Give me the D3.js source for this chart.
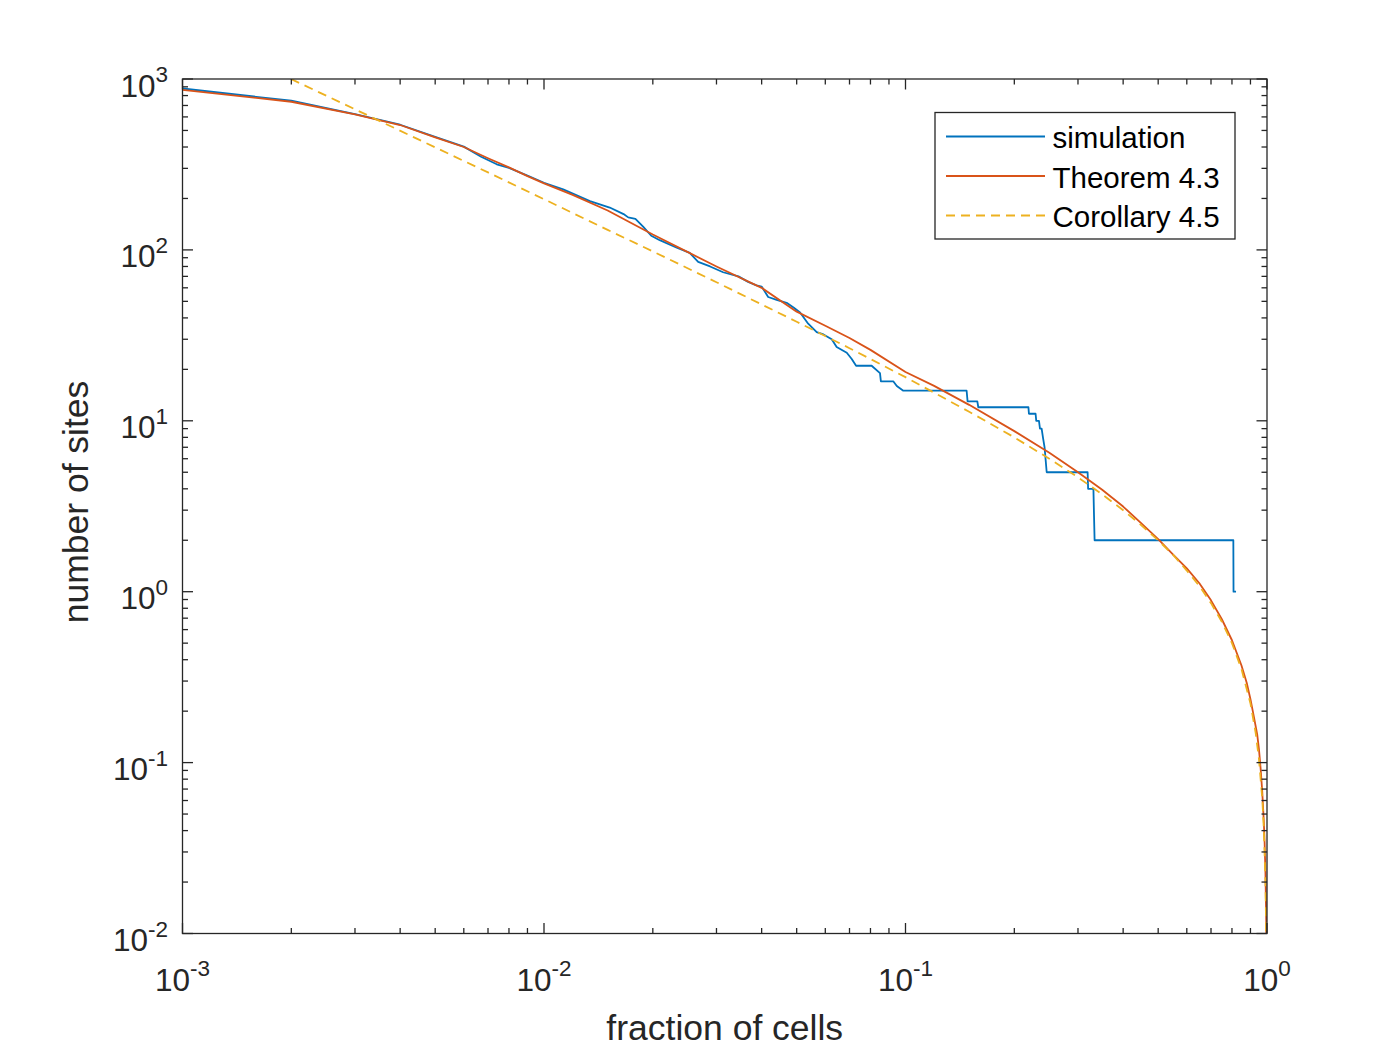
<!DOCTYPE html>
<html>
<head>
<meta charset="utf-8">
<script src="https://cdn.jsdelivr.net/npm/d3@7"></script>
<style>
  html, body { margin: 0; padding: 0; background: #ffffff; }
  svg { display: block; font-family: "Liberation Sans", Arial, Helvetica, sans-serif; }
</style>
</head>
<body>
<svg id="chart" width="1400" height="1050"></svg>
<script>
// ---------------- data ----------------
const simX = [0.001, 0.002, 0.003, 0.004, 0.005, 0.006, 0.0067, 0.0074, 0.008, 0.009, 0.010,
  0.0113, 0.0134, 0.0152, 0.0166, 0.0171, 0.0179, 0.0188, 0.0198, 0.0209, 0.0233, 0.0253,
  0.0267, 0.0288, 0.0313, 0.0345, 0.0367, 0.0387, 0.0400, 0.0417, 0.0440, 0.0469, 0.0490,
  0.0511, 0.0538, 0.0568, 0.0593, 0.0625, 0.0645, 0.0688, 0.0710, 0.0730, 0.0806, 0.0850,
  0.0855, 0.0926, 0.0946, 0.0986, 0.1476, 0.1485, 0.1580, 0.1590, 0.2188, 0.2195, 0.2290,
  0.2300, 0.2340, 0.2355, 0.2380, 0.2400, 0.2425, 0.2440, 0.2458, 0.3190, 0.3200, 0.3310,
  0.3320, 0.3335, 0.8070, 0.8080, 0.8210];
const simY = [880, 746, 622, 540, 458, 402, 351, 317, 302, 272, 247,
  226, 193, 177, 162, 155, 152, 137, 121, 114, 103, 96,
  85, 80, 74, 70, 65, 62, 61, 53, 51, 49, 46,
  43, 37, 33, 32, 30, 27, 25, 23, 21, 21, 19,
  17, 17, 16, 15, 15, 13, 13, 12, 12, 11, 11,
  10, 10, 9, 9, 8, 7, 6, 5, 5, 4, 4,
  3, 2, 2, 1, 1];

const theoX = [0.001, 0.002, 0.003, 0.004, 0.005, 0.006, 0.007, 0.008, 0.009, 0.010, 0.012,
  0.015, 0.020, 0.025, 0.030, 0.040, 0.050, 0.060, 0.070, 0.080, 0.100, 0.120, 0.150,
  0.200, 0.250, 0.300, 0.350, 0.400, 0.450, 0.500, 0.550, 0.600, 0.650, 0.700, 0.750,
  0.800, 0.850, 0.880, 0.900, 0.920, 0.940, 0.950, 0.960, 0.970, 0.980, 0.985, 0.990,
  0.995, 0.998, 0.999];
const theoY = [863, 736, 621, 538, 455, 400, 344, 304, 270, 245, 210,
  170, 123, 97, 80, 60, 43.5, 36, 30.5, 26, 19.3, 16, 12.4,
  8.7, 6.5, 5.0, 3.95, 3.15, 2.5, 2.03, 1.65, 1.37, 1.12, 0.89, 0.69,
  0.52, 0.37, 0.29, 0.235, 0.185, 0.145, 0.12, 0.093, 0.068, 0.045, 0.034, 0.023,
  0.012, 0.0048, 0.0024];

const corX = [0.001, 0.002, 0.003, 0.005, 0.007, 0.010, 0.015, 0.020, 0.030, 0.050, 0.070,
  0.100, 0.150, 0.200, 0.250, 0.300, 0.350, 0.400, 0.450, 0.500, 0.550, 0.600, 0.650,
  0.700, 0.750, 0.800, 0.850, 0.900, 0.930, 0.950, 0.970, 0.980, 0.990, 0.995, 0.998, 0.999];
const corY = [1998, 998, 665, 398, 284, 198, 131, 98, 64.7, 38, 26.6,
  18, 11.3, 8.0, 6.0, 4.67, 3.71, 3.0, 2.44, 2.0, 1.64, 1.33, 1.08,
  0.857, 0.667, 0.5, 0.353, 0.222, 0.15, 0.105, 0.062, 0.041, 0.0202, 0.01, 0.004, 0.002];

const xTickExps = [-3, -2, -1, 0];
const yTickExps = [-2, -1, 0, 1, 2, 3];
const seriesNames = ["simulation", "Theorem 4.3", "Corollary 4.5"];
const xLabel = "fraction of cells";
const yLabel = "number of sites";

// ---------------- layout ----------------
const L = 182.5, R = 1267, T = 79, B = 933.5;
const axisColor = "#262626";
const colors = ["#0072BD", "#D95319", "#EDB120"];

const svg = d3.select("#chart");
const x = d3.scaleLog().domain([1e-3, 1]).range([L, R]);
const y = d3.scaleLog().domain([1e-2, 1e3]).range([B, T]);

svg.append("rect").attr("width", 1400).attr("height", 1050).attr("fill", "#fff");
svg.append("rect").attr("x", L).attr("y", T).attr("width", R - L).attr("height", B - T).attr("fill", "#fff");

svg.append("defs").append("clipPath").attr("id", "plotclip")
  .append("rect").attr("x", L).attr("y", T).attr("width", R - L).attr("height", B - T);

const plot = svg.append("g").attr("clip-path", "url(#plotclip)");
const line = d3.line().x(d => x(d[0])).y(d => y(d[1]));

const simData = simX.map((v, i) => [v, simY[i]]);
const theoData = theoX.map((v, i) => [v, theoY[i]]);
const corData = corX.map((v, i) => [v, corY[i]]);

plot.append("path").datum(simData).attr("d", line)
  .attr("fill", "none").attr("stroke", colors[0]).attr("stroke-width", 1.8).attr("stroke-linejoin", "round");
plot.append("path").datum(theoData).attr("d", line)
  .attr("fill", "none").attr("stroke", colors[1]).attr("stroke-width", 1.8).attr("stroke-linejoin", "round");
plot.append("path").datum(corData).attr("d", line)
  .attr("fill", "none").attr("stroke", colors[2]).attr("stroke-width", 1.8)
  .attr("stroke-dasharray", "9,6");

// ---------------- axes (box with inward ticks on all sides) ----------------
const majLen = 10.5, minLen = 5.5;
const xMajor = xTickExps.map(e => Math.pow(10, e));
const yMajor = yTickExps.map(e => Math.pow(10, e));
const xMinor = [], yMinor = [];
for (let e = -3; e < 0; e++) for (let k = 2; k <= 9; k++) xMinor.push(k * Math.pow(10, e));
for (let e = -2; e < 3; e++) for (let k = 2; k <= 9; k++) yMinor.push(k * Math.pow(10, e));

const axG = svg.append("g").attr("stroke", axisColor).attr("stroke-width", 1.3).attr("fill", "none");
const ticks = [];
xMajor.forEach(v => ticks.push([x(v), B, x(v), B - majLen], [x(v), T, x(v), T + majLen]));
xMinor.forEach(v => ticks.push([x(v), B, x(v), B - minLen], [x(v), T, x(v), T + minLen]));
yMajor.forEach(v => ticks.push([L, y(v), L + majLen, y(v)], [R, y(v), R - majLen, y(v)]));
yMinor.forEach(v => ticks.push([L, y(v), L + minLen, y(v)], [R, y(v), R - minLen, y(v)]));
axG.selectAll("line.tick").data(ticks).enter().append("line")
  .attr("x1", d => d[0]).attr("y1", d => d[1]).attr("x2", d => d[2]).attr("y2", d => d[3]);
axG.append("rect").attr("x", L).attr("y", T).attr("width", R - L).attr("height", B - T);

// tick labels
const tickFont = 31.5, supFont = 22.5, supRise = 14.5;
xTickExps.forEach(e => {
  const t = svg.append("text").attr("x", x(Math.pow(10, e))).attr("y", B + 57)
    .attr("text-anchor", "middle").attr("fill", axisColor).attr("font-size", tickFont);
  t.append("tspan").text("10");
  t.append("tspan").attr("font-size", supFont).attr("dy", -supRise).text(String(e));
});
yTickExps.forEach(e => {
  const t = svg.append("text").attr("x", 168).attr("y", y(Math.pow(10, e)) + 17.5)
    .attr("text-anchor", "end").attr("fill", axisColor).attr("font-size", tickFont);
  t.append("tspan").text("10");
  t.append("tspan").attr("font-size", supFont).attr("dy", -supRise).text(String(e));
});

// axis labels
svg.append("text").attr("x", (L + R) / 2).attr("y", 1039.5)
  .attr("text-anchor", "middle").attr("fill", axisColor).attr("font-size", 35.5).text(xLabel);
svg.append("text").attr("transform", "translate(87.5," + 502 + ") rotate(-90)")
  .attr("text-anchor", "middle").attr("fill", axisColor).attr("font-size", 35.5).text(yLabel);

// ---------------- legend ----------------
const lg = svg.append("g");
lg.append("rect").attr("x", 935).attr("y", 112.5).attr("width", 300).attr("height", 126.5)
  .attr("fill", "#fff").attr("stroke", axisColor).attr("stroke-width", 1.3);
const rowY = [136.5, 176, 215.5];
seriesNames.forEach((name, i) => {
  lg.append("line").attr("x1", 946).attr("x2", 1045).attr("y1", rowY[i]).attr("y2", rowY[i])
    .attr("stroke", colors[i]).attr("stroke-width", 1.8)
    .attr("stroke-dasharray", i === 2 ? "9,6" : null);
  lg.append("text").attr("x", 1052.5).attr("y", rowY[i] + 11.5)
    .attr("fill", "#000").attr("font-size", 29.5).text(name);
});
</script>
</body>
</html>
